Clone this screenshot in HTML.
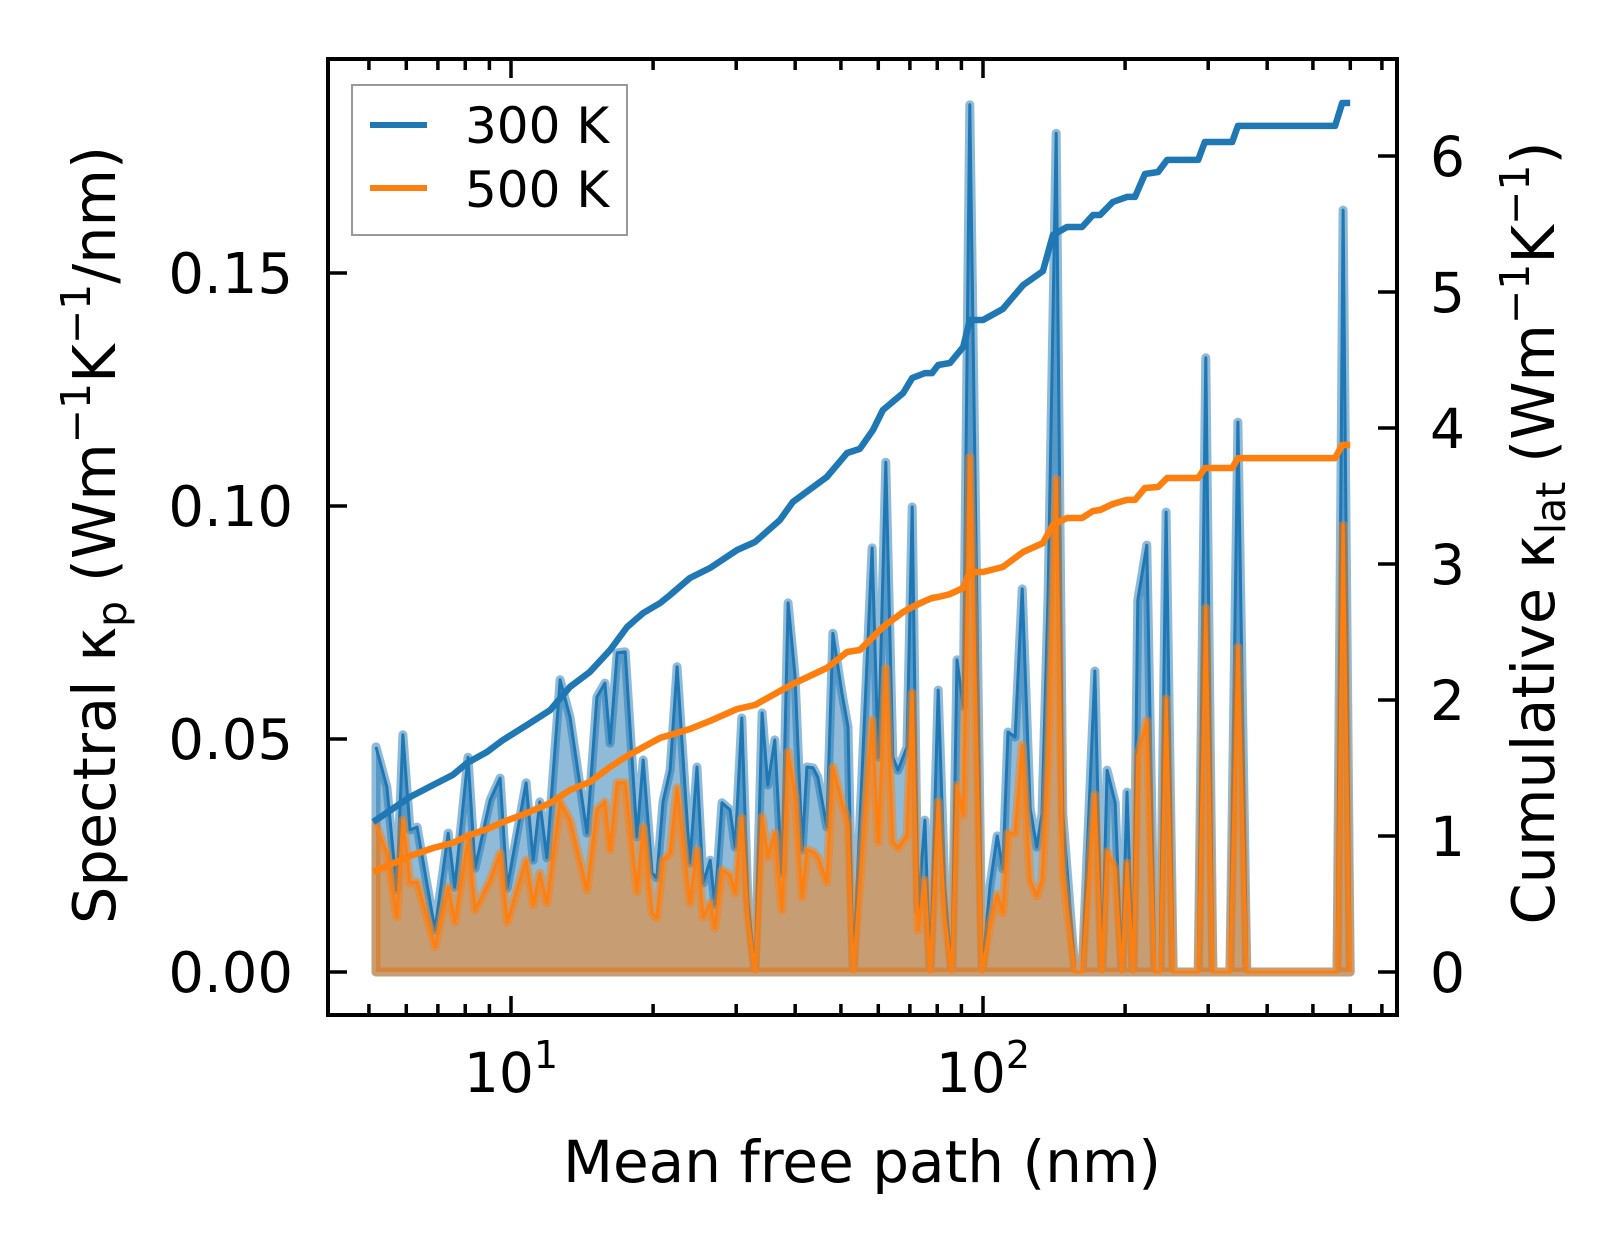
<!DOCTYPE html>
<html><head><meta charset="utf-8"><style>
html,body{margin:0;padding:0;background:#fff;}
svg{display:block;font-family:"DejaVu Sans","Liberation Sans",sans-serif;}
</style></head><body>
<svg id="chart" width="1623" height="1254" viewBox="0 0 1623 1254">
<rect x="0" y="0" width="1623" height="1254" fill="#fff"/>
<g id="plot"></g>
<g id="axes"></g>
</svg>
<script>
// log10 of mean free path (nm) for spectral data
const mfpLog10 = [0.714,0.737,0.758,0.771,0.786,0.801,0.839,0.867,0.881,0.909,0.924,0.956,0.977,0.992,1.032,1.047,1.061,1.076,1.104,1.125,1.161,1.182,1.199,1.210,1.225,1.242,1.267,1.280,1.299,1.309,1.322,1.337,1.352,1.379,1.394,1.407,1.422,1.432,1.447,1.464,1.475,1.489,1.502,1.517,1.532,1.544,1.559,1.574,1.587,1.602,1.617,1.627,1.640,1.650,1.669,1.682,1.701,1.714,1.725,1.765,1.778,1.794,1.809,1.820,1.839,1.850,1.862,1.877,1.888,1.905,1.919,1.934,1.945,1.958,1.972,1.998,2.015,2.030,2.042,2.053,2.068,2.083,2.100,2.114,2.125,2.138,2.155,2.169,2.195,2.210,2.237,2.252,2.263,2.280,2.294,2.305,2.318,2.328,2.347,2.364,2.375,2.388,2.403,2.456,2.472,2.487,2.523,2.540,2.559,2.750,2.763,2.778];
const spec300 = [.0483,.0397,.0176,.0509,.0305,.0311,.0090,.0298,.0182,.0461,.0223,.0369,.0416,.0180,.0406,.0240,.0365,.0245,.0627,.0547,.0298,.0590,.0620,.0491,.0685,.0687,.0290,.0455,.0212,.0202,.0365,.0433,.0655,.0234,.0440,.0191,.0240,.0144,.0363,.0348,.0268,.0545,.0155,0,.0556,.0401,.0498,.0212,.0792,.0633,.0262,.0440,.0438,.0418,.0311,.0727,.0599,.0526,0,.0910,.0461,.1094,.0461,.0433,.0483,.0998,.0133,.0326,0,.0605,.0182,0,.0670,.0569,.1861,0,.0187,.0292,.0221,.0515,.0504,.0822,.0350,.0268,.0339,.0809,.1800,.0339,0,0,.0646,0,.0433,.0363,0,.0386,0,.0798,.0916,0,0,.0987,0,0,.1318,0,0,.1180,0,0,.1635,0];
const spec500 = [.0315,.0255,.0118,.0326,.0191,.0193,.0054,.0182,.0107,.0283,.0133,.0197,.0255,.0107,.0240,.0144,.0212,.0148,.0365,.0326,.0176,.0348,.0365,.0262,.0406,.0406,.0172,.0311,.0127,.0116,.0240,.0255,.0395,.0148,.0262,.0118,.0148,.0094,.0219,.0208,.0170,.0330,.0118,0,.0333,.0247,.0298,.0133,.0472,.0376,.0161,.0262,.0258,.0247,.0193,.0440,.0363,.0320,0,.0541,.0279,.0652,.0279,.0266,.0294,.0599,.0090,.0197,0,.0365,.0118,0,.0401,.0337,.1105,0,.0103,.0167,.0127,.0298,.0298,.0487,.0197,.0163,.0197,.0455,.1058,.0210,0,0,.0380,0,.0258,.0221,0,.0234,0,.0464,.0539,0,0,.0586,0,0,.0781,0,0,.0697,0,0,.0959,0];
// cumulative kappa
const cumLog10 = [0.708,0.786,0.835,0.877,0.907,0.949,0.983,1.034,1.083,1.125,1.167,1.210,1.246,1.280,1.316,1.337,1.379,1.422,1.479,1.517,1.570,1.597,1.669,1.712,1.739,1.767,1.788,1.831,1.850,1.877,1.892,1.905,1.930,1.958,1.972,2.000,2.042,2.085,2.127,2.148,2.178,2.210,2.233,2.248,2.275,2.305,2.322,2.343,2.371,2.390,2.456,2.470,2.528,2.540,2.746,2.761,2.778];
const cum300 = [1.103,1.287,1.375,1.449,1.537,1.618,1.706,1.816,1.926,2.096,2.206,2.368,2.537,2.640,2.713,2.772,2.897,2.971,3.103,3.162,3.324,3.456,3.640,3.816,3.846,3.985,4.132,4.257,4.368,4.404,4.404,4.463,4.478,4.596,4.794,4.794,4.875,5.051,5.154,5.419,5.478,5.478,5.566,5.566,5.662,5.699,5.699,5.868,5.882,5.971,5.971,6.103,6.103,6.221,6.221,6.390,6.390];
const cum500 = [0.735,0.853,0.912,0.949,1.000,1.051,1.103,1.169,1.243,1.338,1.397,1.507,1.588,1.654,1.721,1.743,1.787,1.846,1.934,1.963,2.066,2.118,2.235,2.353,2.368,2.463,2.537,2.647,2.684,2.728,2.750,2.757,2.779,2.824,2.941,2.941,2.978,3.088,3.154,3.287,3.338,3.338,3.390,3.397,3.441,3.471,3.471,3.559,3.566,3.632,3.632,3.706,3.706,3.779,3.779,3.875,3.875];
const leftTicks = [0, 0.05, 0.10, 0.15];
const leftTickLabels = ["0.00","0.05","0.10","0.15"];
const rightTicks = [0,1,2,3,4,5,6];
const xMajor = [1, 2];
const xMajorLabels = ["1","2"];

const NS = "http://www.w3.org/2000/svg";
const L = 328, R = 1397, T = 59, B = 1015;
function xS(lg){ return 511 + (lg - 1) * 472; }
function yL(v){ return 972 - v * 4660; }
function yR(v){ return 972 - v * 136; }
function mk(tag, attrs, parent){ const e = document.createElementNS(NS, tag); for (const k in attrs) e.setAttribute(k, attrs[k]); parent.appendChild(e); return e; }
const plot = document.getElementById('plot');
const axes = document.getElementById('axes');

function fillSeries(vals, color, name){
  let d = "M" + xS(mfpLog10[0]).toFixed(1) + "," + yL(0);
  for (let i = 0; i < vals.length; i++) d += " L" + xS(mfpLog10[i]).toFixed(1) + "," + yL(vals[i]).toFixed(1);
  d += " L" + xS(mfpLog10[mfpLog10.length-1]).toFixed(1) + "," + yL(0) + " Z";
  const p = mk('path', {d: d, fill: color, 'fill-opacity': 0.5, stroke: color, 'stroke-opacity': 0.5, 'stroke-width': 9, 'stroke-linejoin': 'round'}, plot);
  
  
}
function lineSeries(xs, vals, yf, color, w, name){
  let d = "";
  for (let i = 0; i < vals.length; i++) d += (i ? " L" : "M") + xS(xs[i]).toFixed(1) + "," + yf(vals[i]).toFixed(1);
  const p = mk('path', {d: d, fill: 'none', stroke: color, 'stroke-width': w, 'stroke-linejoin': 'round'}, plot);
  
  
}
fillSeries(spec300, '#1f77b4', 'spectral-300k');
lineSeries(mfpLog10, spec300, yL, '#1f77b4', 3, 'spectral-300k-line');
fillSeries(spec500, '#ff7f0e', 'spectral-500k');
lineSeries(mfpLog10, spec500, yL, '#ff7f0e', 3, 'spectral-500k-line');
lineSeries(cumLog10, cum300, yR, '#1f77b4', 6.5, 'cumulative-300k-line');
lineSeries(cumLog10, cum500, yR, '#ff7f0e', 6.5, 'cumulative-500k-line');

// frame
const fr = mk('rect', {x: L, y: T, width: R-L, height: B-T, fill: 'none', stroke: '#000', 'stroke-width': 4}, axes);



for (let dec = 0; dec <= 2; dec++) {
  for (let m = 1; m <= 9; m++) {
    const lg = dec + Math.log10(m);
    const x = xS(lg);
    if (x < L + 2 || x > R - 2) continue;
    const len = (m === 1) ? 19 : 11;
    const t1 = mk('line', {x1: x, y1: B, x2: x, y2: B - len, stroke: '#000', 'stroke-width': 3.5}, axes);
    
    
    const t2 = mk('line', {x1: x, y1: T, x2: x, y2: T + len, stroke: '#000', 'stroke-width': 3.5}, axes);
    
    
  }
}
xMajor.forEach((lg, i) => {
  const t = mk('text', {x: xS(lg), y: 1092, 'text-anchor': 'middle', 'font-size': 55, fill: '#000'}, axes);
  
  
  const a = document.createElementNS(NS, 'tspan'); a.textContent = '10'; t.appendChild(a);
  const s = document.createElementNS(NS, 'tspan'); s.setAttribute('dy', -24); s.setAttribute('font-size', 38); s.textContent = xMajorLabels[i]; t.appendChild(s);
});
leftTicks.forEach((v, i) => {
  const y = yL(v);
  const tk = mk('line', {x1: L, y1: y, x2: L + 19, y2: y, stroke: '#000', 'stroke-width': 3.5}, axes);
  
  
  const t = mk('text', {x: 293, y: y + 20, 'text-anchor': 'end', 'font-size': 56, fill: '#000'}, axes);
  t.textContent = leftTickLabels[i];
  
  
});
rightTicks.forEach(v => {
  const y = yR(v);
  const tk = mk('line', {x1: R, y1: y, x2: R - 19, y2: y, stroke: '#000', 'stroke-width': 3.5}, axes);
  
  
  const t = mk('text', {x: 1430, y: y + 20, 'text-anchor': 'start', 'font-size': 55, fill: '#000'}, axes);
  t.textContent = String(v);
  
  
});
</script>
<script>
(function(){
  const svg = document.getElementById('chart');
  const NS = "http://www.w3.org/2000/svg";
  const g = document.createElementNS(NS, 'g');
  
  
  g.innerHTML = `
  <text x="862" y="1182" text-anchor="middle" font-size="58" fill="#000">Mean free path (nm)</text>
  <text transform="translate(115,535) rotate(-90)" text-anchor="middle" font-size="59" fill="#000">Spectral κ<tspan font-size="41" dy="11">p</tspan><tspan dy="-11"> (Wm</tspan><tspan font-size="41" dy="-25">−1</tspan><tspan dy="25">K</tspan><tspan font-size="41" dy="-25">−1</tspan><tspan dy="25">/nm)</tspan></text>
  <text transform="translate(1554,533) rotate(-90)" text-anchor="middle" font-size="59" fill="#000">Cumulative κ<tspan font-size="41" dy="11">lat</tspan><tspan dy="-11"> (Wm</tspan><tspan font-size="41" dy="-25">−1</tspan><tspan dy="25">K</tspan><tspan font-size="41" dy="-25">−1</tspan><tspan dy="25">)</tspan></text>
  <g>
    <rect x="352" y="85" width="275" height="150" fill="#fff" fill-opacity="0.8" stroke="#999" stroke-width="2"/>
    <line x1="370" y1="125" x2="427" y2="125" stroke="#1f77b4" stroke-width="6"/>
    <text x="465" y="143" font-size="50" fill="#000">300 K</text>
    <line x1="370" y1="188" x2="427" y2="188" stroke="#ff7f0e" stroke-width="6"/>
    <text x="465" y="207" font-size="50" fill="#000">500 K</text>
  </g>`;
  svg.appendChild(g);
})();
</script>
</body></html>
